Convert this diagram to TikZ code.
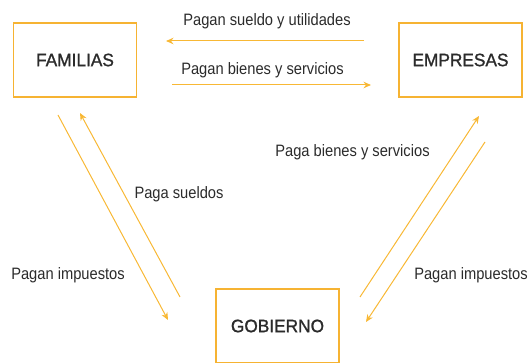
\documentclass[tikz,border=0pt]{standalone}
\usepackage{fontspec}
\setmainfont{Liberation Sans}[FakeStretch=0.89]
\newfontfamily\boxfont{Liberation Sans}[FakeStretch=0.96,FakeBold=1.2]
\usetikzlibrary{arrows.meta}
\definecolor{boxc}{HTML}{F6B332}
\definecolor{arrc}{HTML}{F8B835}
\definecolor{txt}{HTML}{2B2B2B}
\tikzset{
  box/.style={draw=boxc, line width=1.3pt, minimum width=123pt, minimum height=74pt, inner sep=0pt, text=txt, font=\boxfont\fontsize{18}{20}\selectfont},
  flow/.style={draw=arrc, line width=1pt, -{Stealth[length=7.5pt,width=6.5pt]}},
  lbl/.style={text=txt, font=\fontsize{16.5}{18}\selectfont, inner sep=0pt}
}
\begin{document}
\begin{tikzpicture}[x=1pt,y=-1pt]
\useasboundingbox (0,0) rectangle (531,363);
\node[box] (fam) at (75,60) {FAMILIAS};
\node[box] (emp) at (460.5,60) {EMPRESAS};
\node[box] (gob) at (277.5,326) {GOBIERNO};
% top arrows
\coordinate (a1s) at (364,41); \coordinate (a1e) at (166,41);
\coordinate (a2s) at (172,85); \coordinate (a2e) at (371,85);
\draw[flow] (a1s) -- (a1e);
\draw[flow] (a2s) -- (a2e);
\node[lbl] (t1) at (267,21) {Pagan sueldo y utilidades};
\node[lbl] (t2) at (262.5,70) {Pagan bienes y servicios};
% left arrows
\coordinate (l1s) at (58,115); \coordinate (l1e) at (168,320);
\coordinate (l2s) at (180,297); \coordinate (l2e) at (80,113);
\draw[flow] (l1s) -- (l1e);
\draw[flow] (l2s) -- (l2e);
\node[lbl] (t3) at (179,194) {Paga sueldos};
\node[lbl] (t4) at (68,275) {Pagan impuestos};
% right arrows
\coordinate (r1s) at (360,297); \coordinate (r1e) at (479,116);
\coordinate (r2s) at (485,142); \coordinate (r2e) at (366,322);
\draw[flow] (r1s) -- (r1e);
\draw[flow] (r2s) -- (r2e);
\node[lbl] (t5) at (352.5,152) {Paga bienes y servicios};
\node[lbl] (t6) at (471,275) {Pagan impuestos};
\end{tikzpicture}
\end{document}
